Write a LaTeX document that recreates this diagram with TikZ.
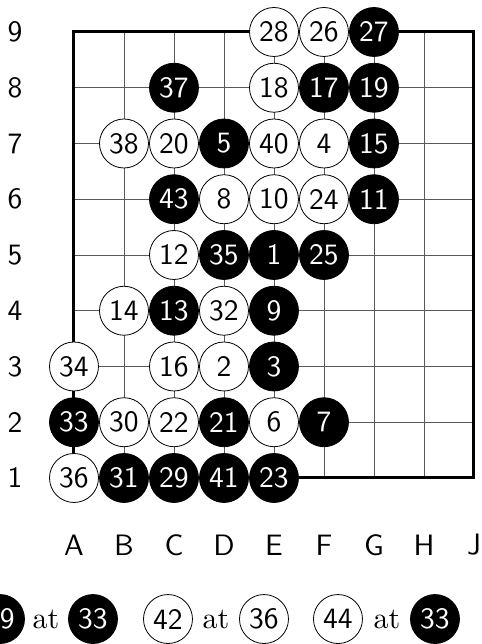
\documentclass[tikz,border=0pt]{standalone}
\usepackage{fontspec}
\newfontfamily\stonefont{lmsans10-regular.otf}
\newfontfamily\atfont{lmroman10-regular.otf}
\usetikzlibrary{positioning}
\begin{document}
\begin{tikzpicture}[x=50pt, y=55.75pt,
    grid line/.style={black!65, line width=0.7pt},
    edge line/.style={black, line width=3pt},
    wstone/.style={circle, draw=black, line width=0.8pt, fill=white, minimum size=49pt, inner sep=0pt, font=\fontsize{29.5}{32}\stonefont},
    bstone/.style={wstone, fill=black, text=white},
    coordlabel/.style={font=\fontsize{29.5}{32}\stonefont},
    attext/.style={font=\fontsize{30}{32}\atfont}]
    \useasboundingbox (-0.48,-1.978) rectangle (9.16,9.574);
    \foreach \i in {2,...,8} {
        \draw[grid line] (\i,1) -- (\i,9);
        \draw[grid line] (1,\i) -- (9,\i);
    }
    \draw[edge line] (1,1) rectangle (9,9);
    \foreach \r in {1,...,9}
        \node[coordlabel] (row\r) at (-0.18,\r) {\r};
    \foreach \c/\l in {1/A,2/B,3/C,4/D,5/E,6/F,7/G,8/H,9/J}
        \node[coordlabel] (col\l) at (\c,-0.2) {\l};
    \foreach \c/\r/\n in {5/9/28, 6/9/26, 5/8/18, 2/7/38, 3/7/20, 5/7/40, 6/7/4, 4/6/8, 5/6/10, 6/6/24,
            3/5/12, 2/4/14, 4/4/32, 1/3/34, 3/3/16, 4/3/2, 2/2/30, 3/2/22, 5/2/6, 1/1/36}
        \node[wstone] (w\n) at (\c,\r) {\n};
    \foreach \c/\r/\n in {7/9/27, 3/8/37, 6/8/17, 7/8/19, 4/7/5, 7/7/15, 3/6/43, 7/6/11, 4/5/35, 5/5/1, 6/5/25,
            3/4/13, 5/4/9, 5/3/3, 1/2/33, 4/2/21, 6/2/7, 2/1/31, 3/1/29, 4/1/41, 5/1/23}
        \node[bstone] (b\n) at (\c,\r) {\n};
    \node[bstone] (l39) at (-0.48,-1.53) {39};
    \node[attext] (at1) at (0.44,-1.53) {at};
    \node[bstone] (l33a) at (1.38,-1.53) {33};
    \node[wstone] (l42) at (2.88,-1.53) {42};
    \node[attext] (at2) at (3.84,-1.53) {at};
    \node[wstone] (l36) at (4.8,-1.53) {36};
    \node[wstone] (l44) at (6.28,-1.53) {44};
    \node[attext] (at3) at (7.26,-1.53) {at};
    \node[bstone] (l33b) at (8.22,-1.53) {33};
\end{tikzpicture}
\end{document}
